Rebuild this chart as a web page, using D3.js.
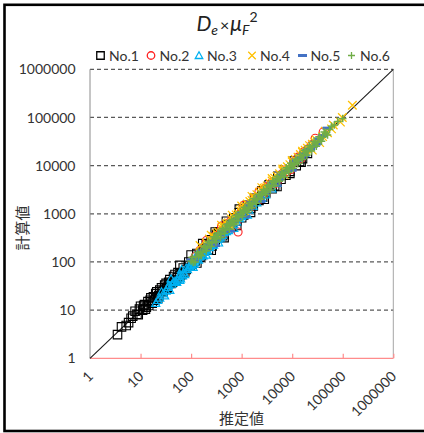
<!DOCTYPE html>
<html>
<head>
<meta charset="utf-8">
<script src="https://cdn.jsdelivr.net/npm/d3@7"></script>
<style>
  html, body { margin: 0; padding: 0; background: #fff; }
  svg { display: block; }
</style>
</head>
<body>
<svg id="chart" width="424" height="433"></svg>
<script>
// 推定値 (estimated) vs 計算値 (calculated), pairs of [estimated, calculated]
const decadeTicks = [1, 10, 100, 1000, 10000, 100000, 1000000];
const tickLabels = ["1", "10", "100", "1000", "10000", "100000", "1000000"];
const seriesNames = ["No.1", "No.2", "No.3", "No.4", "No.5", "No.6"];

const no1 = [[3.5,3.1],[5.2,4.8],[6.5,6.8],[7.8,9.5],[8.5,8.2],[9.5,10.5],[11,10],[12,13],[13,11.5],[14,15],
  [15.5,16],[17,14],[18,19],[20,22],[22,18],[24,26],[27,24],[30,33],[33,28],[36,38],[40,36],[45,50],[50,42],
  [55,60],[65,55],[80,70],[95,85],[120,105],[150,125],[180,190],[220,180],[300,260],[380,400],[450,380],
  [600,520],[800,700],[1100,950],[1500,1300],[2200,1900],[3000,2700],[4500,3800],[6000,5200],[9000,7600],
  [14000,12000],[20000,18000],[700,820],[350,420],[2500,3000],[250,290],[1800,2100],
  [4.2,4.5],[5.8,5.5],[7,7.5],[9,8],[10,12],[11.5,12.5],[12.5,10.5],[14.5,12.5],[16,18],[19,16],[21,24],
  [23,20],[26,29],[28,25],[32,36],[34,30],[38,43],[43,38],[48,55],[53,47],[60,52],[70,75],[75,62],[90,100],
  [105,90],[130,150],[160,135],[200,230],[260,215],[320,370],[420,350],[520,600],[650,560],[900,1050],
  [1000,830],[1300,1500],[1700,1450],[2600,2200],[3500,4000],[4000,3300],[5200,6000],[7500,6300],
  [11000,12500],[12000,10000],[16000,14000],
  [60,85],[100,140],[170,240],[300,420],[500,700],[900,1250],[130,95],[250,175],[450,320],[800,570],
  [1500,1070],[2800,2000],[5000,3700],[9000,6900],[15000,11800]];
const no2 = [[120,130],[180,200],[250,280],[320,300],[420,460],[500,560],[650,600],[850,420],[900,980],
  [1200,1350],[1600,1500],[2000,2200],[2700,2500],[3500,3900],[4500,4200],[6000,6500],[8000,7500],
  [11000,12000],[15000,14000],[20000,22000],[28500,37000],[41000,50000],[300,350],[700,780],
  [150,175],[200,170],[280,240],[380,440],[450,390],[600,700],[800,680],[1000,1150],[1400,1200],
  [1800,2100],[2300,2000],[3000,3500],[4000,4600],[5000,4400],[7000,8100],[9500,8300],[13000,15000],
  [17000,19500],[24000,27000],[400,560],[1100,1500],[2200,2900],[200,280]];
const no3 = [[20,14],[24,18],[28,22],[30,20],[35,30],[38,26],[42,35],[48,40],[52,38],[58,50],[62,45],[70,60],
  [75,55],[85,70],[90,80],[100,85],[110,95],[120,100],[135,115],[150,130],[165,140],[180,160],[200,175],
  [230,200],[260,220],[300,260],[350,300],[420,360],[500,430],[600,520],[800,680],[1000,880],[1400,1200],
  [2000,1700],[3000,2500],[5000,4300],[40,45],[65,70],[130,140],[220,240],
  [22,16],[26,24],[32,25],[36,33],[45,38],[55,42],[60,56],[68,52],[80,75],[95,78],[105,100],[115,90],
  [125,118],[140,110],[160,150],[175,135],[190,185],[210,170],[240,230],[280,225],[320,300],[380,320],
  [450,410],[550,450],[700,600],[900,800],[1200,1000],[1700,1450],[2500,2100],[4000,3300],
  [60,42],[110,78],[200,140],[350,250],[700,500],[1300,950]];
const no4 = [[200,250],[280,340],[350,420],[450,560],[550,650],[700,850],[850,1000],[1000,1250],[1300,1600],
  [1600,1900],[2000,2500],[2500,3000],[3200,3800],[4000,4800],[5000,6000],[6500,7800],[8000,9500],
  [10000,12000],[13000,15000],[16000,19000],[20000,23000],[25000,28000],[30000,34000],[35000,30000],
  [40000,40000],[50000,48000],[65000,70000],[98000,100000],[90000,80000],[155000,180000],[3000,3500],
  [1200,1100],[7000,6500],[25000,21000],[600,550],
  [230,300],[320,390],[400,500],[500,620],[630,780],[780,950],[950,1150],[1150,1450],[1450,1800],
  [1800,2200],[2250,2800],[2800,3400],[3600,4300],[4500,5500],[5600,6800],[7200,8600],[9000,10500],
  [11500,13500],[14500,17000],[18000,21000],[22000,26000],[28000,31000],[45000,52000],[60000,58000],
  [150,220],[250,360],[400,580],[650,940],[1000,1450],[1600,2300],[2500,3500],[4000,5400],[6500,8500],
  [10000,12800],[16000,20000]];
const no5 = [[100,110],[130,125],[160,170],[200,190],[250,260],[320,300],[400,420],[500,480],[650,680],
  [800,760],[1000,1050],[1300,1250],[1600,1700],[2000,1900],[2600,2700],[3300,3100],[4200,4400],
  [5500,5200],[7000,7300],[9000,8600],[12000,12500],[15000,14500],[20000,21000],[26000,25000],
  [34000,36000],[49000,60000],[30000,28000],[18000,16000],
  [115,105],[145,150],[180,175],[225,230],[280,270],[360,370],[450,440],[570,590],[720,700],[900,920],
  [1150,1100],[1450,1480],[1800,1750],[2300,2350],[2900,2800],[3700,3800],[4800,4600],[6200,6400],
  [8000,7700],[10500,10800],[13500,13000],[17000,17500],[23000,22000],[40000,42000],
  [300,220],[600,440],[1200,880],[2400,1800],[5000,3900],[10000,8000]];
const no6 = [[100,105],[110,98],[125,130],[140,128],[155,165],[170,160],[190,200],[210,195],[230,245],
  [260,250],[290,300],[320,305],[350,370],[390,375],[430,450],[480,460],[530,560],[590,570],[650,690],
  [720,700],[800,840],[880,850],[970,1000],[1080,1050],[1200,1260],[1350,1300],[1500,1560],[1650,1600],
  [1850,1920],[2050,1980],[2300,2400],[2550,2450],[2850,2950],[3150,3050],[3500,3650],[3900,3800],
  [4300,4500],[4800,4650],[5300,5500],[5900,5700],[6500,6800],[7200,7000],[8000,8300],[8900,8600],
  [9900,10200],[11000,10700],[12200,12600],[13500,13100],[15000,15500],[16700,16200],[18500,19200],
  [20500,19800],[23000,23800],[25500,24700],[28500,29500],[32000,31000],[36000,37000],[40000,39000],
  [46000,47000],[55000,56000],[68000,70000],[100000,95000],[600,650],[1100,1200],[2500,2700],[5000,5400],
  [9000,9800],[300,330],[150,140],[700,640],[1400,1300],[3000,2800],
  [105,125],[120,100],[135,160],[160,135],[180,215],[200,170],[220,265],[250,210],[280,335],[310,260],
  [340,405],[380,320],[420,500],[460,390],[510,610],[570,480],[630,750],[700,590],[770,920],[850,720],
  [940,1120],[1040,880],[1150,1370],[1280,1080],[1420,1690],[1580,1330],[1750,2080],[1950,1650],
  [2150,2560],[2400,2030],[2700,3200],[3000,2530],[3300,3930],[3700,3120],[4100,4880],[4550,3840],
  [5050,6000],[5600,4720],[6200,7380],[6900,5820],[7600,9050],[8500,7170],[9400,11200],[10500,8850],
  [11600,13800],[12900,10900],[14300,17000],[15900,13400],[17600,20900],[19500,16400],[21700,25800],
  [24000,20200],[27000,32000],[30000,25300],[34000,40000],[38000,32000],[43000,50000],[50000,43000],
  [60000,66000],[80000,82000]];

const seriesData = [no1, no2, no3, no4, no5, no6];
const seriesColors = ["#000000", "#FF2020", "#00B0F0", "#FFC000", "#4472C4", "#70AD47"];

// marker path generators (centered at 0,0)
const markerPath = [
  s => { const h = s / 2; return `M${-h},${-h}H${h}V${h}H${-h}Z`; },                     // square
  s => { const r = s / 2; return `M${r},0A${r},${r} 0 1,1 ${-r},0A${r},${r} 0 1,1 ${r},0Z`; }, // circle
  s => { const h = s / 2; return `M0,${-h}L${h},${h * 0.8}L${-h},${h * 0.8}Z`; },          // triangle
  s => { const h = s / 2; return `M${-h},${-h}L${h},${h}M${-h},${h}L${h},${-h}`; },         // times
  s => { const h = s / 2; return `M${-h},0H${h}`; },                                        // dash
  s => { const h = s / 2; return `M${-h},0H${h}M0,${-h}V${h}`; }                            // plus
];
const markerSize = [8.5, 8, 8, 8.5, 9, 7.5];
const markerStroke = [1.1, 1.1, 1.2, 1.3, 3, 1.5];

const svg = d3.select("#chart");
const plot = { left: 90, right: 393.3, top: 69.3, bottom: 358.3 };

const x = d3.scaleLog().domain([1, 1e6]).range([plot.left, plot.right]);
const y = d3.scaleLog().domain([1, 1e6]).range([plot.bottom, plot.top]);

const latin = "Lato, 'Open Sans', 'Liberation Sans', sans-serif";
const cjk = "'Noto Sans CJK JP', 'Noto Sans', sans-serif";

// outer frame
svg.append("rect")
  .attr("x", 4.5).attr("y", 4.8).attr("width", 440).attr("height", 426.2)
  .attr("fill", "none").attr("stroke", "#000").attr("stroke-width", 2.6);

// horizontal dashed gridlines
svg.append("g")
  .selectAll("line")
  .data(decadeTicks.slice(1))
  .join("line")
  .attr("x1", plot.left).attr("x2", plot.right)
  .attr("y1", d => y(d)).attr("y2", d => y(d))
  .attr("stroke", "#595959").attr("stroke-width", 1.2)
  .attr("stroke-dasharray", "4,3");

// left axis line and right frame line
svg.append("line")
  .attr("x1", plot.left).attr("x2", plot.left)
  .attr("y1", plot.top).attr("y2", plot.bottom)
  .attr("stroke", "#8c8c8c").attr("stroke-width", 1);
svg.append("line")
  .attr("x1", plot.right).attr("x2", plot.right)
  .attr("y1", plot.top).attr("y2", plot.bottom)
  .attr("stroke", "#a6a6a6").attr("stroke-width", 1);

// y tick labels
svg.append("g")
  .selectAll("text")
  .data(decadeTicks)
  .join("text")
  .attr("x", 75.5)
  .attr("y", d => y(d))
  .attr("dy", "0.36em")
  .attr("text-anchor", "end")
  .attr("font-family", latin)
  .attr("font-size", 14)
  .attr("fill", "#333")
  .text((d, i) => tickLabels[i]);

// x axis (pink) with inward ticks
const xAxisG = svg.append("g")
  .attr("transform", `translate(0,${plot.bottom})`)
  .call(d3.axisBottom(x).tickValues(decadeTicks.slice(1)).tickSize(-4.5).tickFormat(""));
xAxisG.select(".domain").attr("stroke", "#FF8C8C").attr("stroke-width", 1.2).attr("d", `M${plot.left},0H${plot.right}`);
xAxisG.selectAll(".tick line").attr("stroke", "#FF8C8C").attr("stroke-width", 1.2);

// rotated x tick labels
svg.append("g")
  .selectAll("text")
  .data(decadeTicks)
  .join("text")
  .attr("transform", d => `translate(${x(d) - 3},${plot.bottom + 12}) rotate(-45)`)
  .attr("text-anchor", "end")
  .attr("dy", "0.7em")
  .attr("font-family", latin)
  .attr("font-size", 14)
  .attr("fill", "#333")
  .text((d, i) => tickLabels[i]);

// 1:1 reference line
svg.append("line")
  .attr("x1", x(1)).attr("y1", y(1))
  .attr("x2", x(1e6)).attr("y2", y(1e6))
  .attr("stroke", "#1a1a1a").attr("stroke-width", 1.1);

// data series, drawn in order so No.6 ends on top
seriesData.forEach((data, i) => {
  svg.append("g")
    .selectAll("path")
    .data(data)
    .join("path")
    .attr("transform", d => `translate(${x(d[0])},${y(d[1])})`)
    .attr("d", markerPath[i](markerSize[i]))
    .attr("fill", "none")
    .attr("stroke", seriesColors[i])
    .attr("stroke-width", markerStroke[i]);
});

// legend
const legendMarkX = [100.5, 151, 199, 252, 302.5, 351.5];
const legendTextX = [109, 159.5, 207, 260, 310.5, 360];
const legendY = 55.5;
const legend = svg.append("g");
seriesNames.forEach((name, i) => {
  legend.append("path")
    .attr("transform", `translate(${legendMarkX[i]},${legendY})`)
    .attr("d", markerPath[i](i === 5 ? 7 : (i === 4 ? 9 : 7.5)))
    .attr("fill", "none")
    .attr("stroke", seriesColors[i])
    .attr("stroke-width", i === 4 ? 3 : 1.3);
  legend.append("text")
    .attr("x", legendTextX[i]).attr("y", legendY)
    .attr("dy", "0.36em")
    .attr("font-family", latin)
    .attr("font-size", 14)
    .attr("fill", "#333")
    .text(name);
});

// title: D_e × μ_F^2
const title = svg.append("text")
  .attr("x", 227).attr("y", 31)
  .attr("text-anchor", "middle")
  .attr("font-family", latin)
  .attr("font-size", 21)
  .attr("fill", "#222");
title.append("tspan").attr("font-style", "italic").text("D");
title.append("tspan").attr("font-style", "italic").attr("font-size", 14).attr("dy", 4).text("e");
title.append("tspan").attr("font-size", 16).attr("dy", -4).attr("dx", 2).text("×");
title.append("tspan").attr("font-style", "italic").attr("dx", 1).text("μ");
title.append("tspan").attr("font-style", "italic").attr("font-size", 14).attr("dy", 4).text("F");
title.append("tspan").attr("font-size", 14).attr("dy", -13).text("2");

// axis titles
svg.append("text")
  .attr("x", 241.5).attr("y", 424)
  .attr("text-anchor", "middle")
  .attr("font-family", cjk)
  .attr("font-size", 15)
  .attr("fill", "#333")
  .text("推定値");
svg.append("text")
  .attr("transform", "translate(28,228) rotate(-90)")
  .attr("text-anchor", "middle")
  .attr("font-family", cjk)
  .attr("font-size", 15)
  .attr("fill", "#333")
  .text("計算値");
</script>
</body>
</html>
